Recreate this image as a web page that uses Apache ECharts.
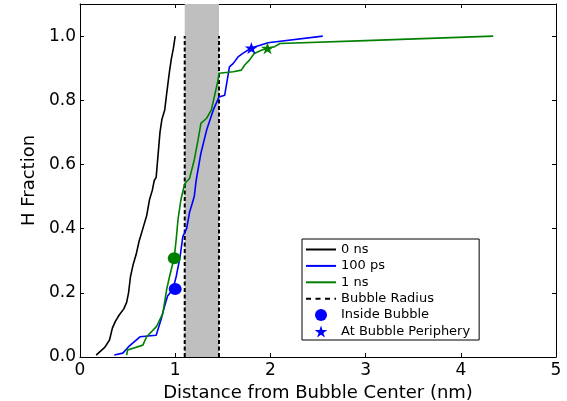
<!DOCTYPE html>
<html>
<head>
<meta charset="utf-8">
<script src="https://cdn.jsdelivr.net/npm/echarts@6/dist/echarts.min.js"></script>
<style>
html,body{margin:0;padding:0;background:#fff;}
#chart{width:567px;height:401px;}
</style>
</head>
<body>
<div id="chart"></div>
<script>
// ---- data ----
var xTicks = [0, 1, 2, 3, 4, 5];
var yTicks = [0.0, 0.2, 0.4, 0.6, 0.8, 1.0];
var bubbleRadius = [1.10, 1.46];

var ns0 = [[0.17,0.006],[0.21,0.017],[0.26,0.03],[0.31,0.053],[0.34,0.09],[0.37,0.11],[0.41,0.13],[0.46,0.15],[0.49,0.17],[0.51,0.2],[0.53,0.25],[0.56,0.29],[0.59,0.32],[0.62,0.36],[0.66,0.40],[0.70,0.44],[0.73,0.49],[0.76,0.52],[0.78,0.55],[0.80,0.56],[0.82,0.63],[0.84,0.70],[0.86,0.74],[0.89,0.77],[0.91,0.82],[0.94,0.89],[0.96,0.93],[0.98,0.96],[1.0,1.0]];

var ps100 = [[0.36,0.006],[0.45,0.012],[0.52,0.035],[0.63,0.063],[0.80,0.068],[0.85,0.115],[0.89,0.16],[0.92,0.19],[0.975,0.21],[1.01,0.25],[1.05,0.31],[1.08,0.375],[1.12,0.40],[1.15,0.45],[1.17,0.47],[1.20,0.50],[1.22,0.55],[1.27,0.635],[1.33,0.707],[1.40,0.77],[1.46,0.81],[1.52,0.816],[1.57,0.904],[1.61,0.915],[1.66,0.935],[1.71,0.946],[1.80,0.963],[1.975,0.979],[2.55,1.0]];

var ns1 = [[0.49,0.006],[0.50,0.022],[0.66,0.037],[0.70,0.063],[0.80,0.094],[0.82,0.105],[0.87,0.136],[0.91,0.21],[0.94,0.25],[0.99,0.31],[1.01,0.365],[1.03,0.43],[1.06,0.49],[1.10,0.54],[1.15,0.556],[1.20,0.614],[1.24,0.676],[1.27,0.728],[1.33,0.744],[1.38,0.77],[1.41,0.81],[1.45,0.863],[1.46,0.884],[1.61,0.889],[1.695,0.894],[1.73,0.91],[1.78,0.925],[1.83,0.946],[1.905,0.956],[1.97,0.962],[2.045,0.967],[2.10,0.977],[3.0,0.986],[4.34,1.0]];

var insideBubble = [[0.99,0.308,'#008000'],[1.00,0.212,'#0000ff']];
var periphery = [[1.80,0.963,'#0000ff'],[1.97,0.962,'#008000']];

var STAR = 'path://M50,0L61.2,34.5L97.6,34.5L68.2,55.9L79.4,90.5L50,69.1L20.6,90.5L31.8,55.9L2.4,34.5L38.8,34.5Z';
var FONT = 'DejaVu Sans';

var chart = echarts.init(document.getElementById('chart'), null, {renderer:'canvas'});

function axisBase(pos, isX) {
  return {
    type: 'value',
    position: pos,
    min: isX ? xTicks[0] : yTicks[0],
    max: isX ? xTicks[xTicks.length-1] : 1.1,
    interval: isX ? 1 : 0.2,
    splitLine: {show:false},
    axisLine: {show:true, onZero:false, lineStyle:{color:'#000', width:1}},
    axisTick: {show:true, inside:true, length:4, lineStyle:{color:'#000', width:1}},
    axisLabel: {show:false}
  };
}

var xMain = axisBase('bottom', true);
xMain.axisLabel = {show:true, fontFamily:FONT, fontSize:17, color:'#000', margin:5,
  formatter: function(v){ return String(Math.round(v)); }};
xMain.name = 'Distance from Bubble Center (nm)';
xMain.nameLocation = 'middle';
xMain.nameGap = 21;
xMain.nameTextStyle = {fontFamily:FONT, fontSize:18, color:'#000'};

var yMain = axisBase('left', false);
yMain.axisLabel = {show:true, fontFamily:FONT, fontSize:17, color:'#000', margin:4, showMaxLabel:false,
  formatter: function(v){ return v > 1.05 ? '' : v.toFixed(1); }};
yMain.name = 'H Fraction';
yMain.nameLocation = 'middle';
yMain.nameGap = 41;
yMain.nameTextStyle = {fontFamily:FONT, fontSize:18, color:'#000'};

var xTop = axisBase('top', true);
var yRight = axisBase('right', false);

function lineSeries(name, data, color) {
  return {
    name: name, type: 'line', data: data, symbol: 'none', showSymbol:false,
    lineStyle: {color: color, width: 1.6}, itemStyle:{color:color, borderWidth:0},
    z: 3, animation: false
  };
}

function radiusSeries(x) {
  return {
    name: 'Bubble Radius', type: 'line', data: [[x,0],[x,1.0]], symbol:'none', showSymbol:false,
    lineStyle: {color:'#000', width:2, type:[4,2.5]}, itemStyle:{color:'#000', borderWidth:0}, z: 2, animation:false
  };
}

var hiddenSymbol = {opacity:0, borderWidth:0};

var option = {
  animation: false,
  backgroundColor: '#fff',
  grid: {left:80, right:11, top:4, bottom:44, containLabel:false, outerBoundsMode:'none'},
  xAxis: [xMain, xTop],
  yAxis: [yMain, yRight],
  legend: {
    left: 302, top: 239,
    orient: 'vertical',
    itemWidth: 30, itemHeight: 12, itemGap: 3.4,
    padding: [4, 9, 2, 3],
    backgroundColor: '#fff',
    borderColor: '#000', borderWidth: 1, borderRadius: 0,
    textStyle: {fontFamily:FONT, fontSize:13, color:'#000'},
    selectedMode: false,
    data: [
      {name:'0 ns', itemStyle:hiddenSymbol},
      {name:'100 ps', itemStyle:hiddenSymbol},
      {name:'1 ns', itemStyle:hiddenSymbol},
      {name:'Bubble Radius', itemStyle:hiddenSymbol, lineStyle:{type:[5,4.5], width:2}},
      {name:'Inside Bubble', icon:'circle', itemStyle:{color:'#0000ff', opacity:1, borderWidth:0}},
      {name:'At Bubble Periphery', icon:STAR, itemStyle:{color:'#0000ff', opacity:1, borderWidth:0}}
    ]
  },
  series: [
    {
      name: 'band', type: 'line', data: [], silent: true, z: 1,
      markArea: {
        silent: true,
        itemStyle: {color:'#bfbfbf', opacity:1},
        data: [[{xAxis: bubbleRadius[0]}, {xAxis: bubbleRadius[1]}]]
      }
    },
    radiusSeries(bubbleRadius[0]),
    radiusSeries(bubbleRadius[1]),
    lineSeries('0 ns', ns0, '#000000'),
    lineSeries('100 ps', ps100, '#0000ff'),
    lineSeries('1 ns', ns1, '#008000'),
    {
      name: 'Inside Bubble', type: 'scatter', symbol: 'circle', symbolSize: [13, 12], z: 5,
      itemStyle: {color:'#0000ff', opacity:1},
      data: insideBubble.map(function(p){ return {value:[p[0],p[1]], itemStyle:{color:p[2], opacity:1}}; })
    },
    {
      name: 'At Bubble Periphery', type: 'scatter', symbol: STAR, symbolSize: [13, 12], z: 5,
      itemStyle: {color:'#0000ff', opacity:1},
      data: periphery.map(function(p){ return {value:[p[0],p[1]], itemStyle:{color:p[2], opacity:1}}; })
    }
  ]
};
chart.setOption(option);
</script>
</body>
</html>
